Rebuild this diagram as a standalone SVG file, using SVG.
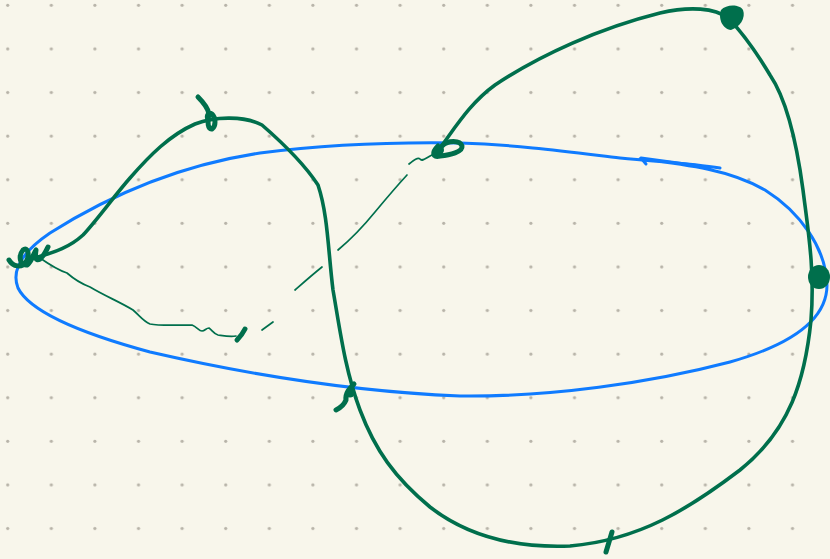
<svg xmlns="http://www.w3.org/2000/svg" width="830" height="559" viewBox="0 0 830 559">
<defs>
<pattern id="dots" x="0" y="0" width="43.6" height="43.6" patternUnits="userSpaceOnUse">
<circle cx="7.7" cy="5.3" r="1.6" fill="#b7b3a8"/>
</pattern>
<style>
.blue{fill:none;stroke:#0f7bff;stroke-width:3;stroke-linecap:round;stroke-linejoin:round}
.g{fill:none;stroke:#006f4c;stroke-width:3.6;stroke-linecap:round;stroke-linejoin:round}
.gt{fill:none;stroke:#006f4c;stroke-width:1.7;stroke-linecap:round;stroke-linejoin:round}
.gk{fill:none;stroke:#006f4c;stroke-width:5;stroke-linecap:round;stroke-linejoin:round}
.blob{fill:#006f4c}
</style>
</defs>
<rect width="830" height="559" fill="#f8f6eb"/>
<rect width="830" height="559" fill="url(#dots)"/>
<g id="connectors">
<path class="blue" d="M 640 159 C 690 165 730 170 765 190 C 800 212 826 248 827 285 C 827 320 790 345 730 362 C 650 383 550 397 460 396 C 360 392 250 375 150 352 C 80 333 30 312 18 288 C 10 268 25 250 50 233 C 110 195 180 165 260 153 C 330 144 400 142 460 143 C 520 145 570 152 620 158 C 660 162 690 163 720 168"/>
<path class="blue" d="M 646 164 L 641 158 L 700 166"/>
<path class="g" d="M 38 257 C 55 252 70 247 83 235 C 97 220 115 195 130 178 C 150 155 170 135 195 124 C 215 116 245 116 262 125 C 285 145 305 165 318 185 C 328 215 328 250 333 290 C 340 330 345 370 360 410 C 375 450 395 478 430 507 C 470 538 520 548 570 546 C 640 540 690 508 740 470 C 790 430 805 380 811 320 C 815 270 808 230 803 190 C 797 145 787 100 770 75 C 755 50 740 30 728 18 C 715 8 690 6 660 13 C 600 28 540 55 495 85 C 470 103 455 128 440 148"/>
<path class="gt" d="M 40 258 C 50 265 58 270 67 273 C 75 280 82 284 90 287 C 105 296 120 302 133 310 C 140 316 143 321 150 324 C 160 326 175 325 192 325 C 197 327 199 331 202 331 C 205 331 206 328 209 328 C 212 330 214 334 218 335 C 225 336 230 337 236 336"/>
<path class="gt" d="M 262 330 L 273 322"/>
<path class="gt" d="M 407 175 C 395 188 385 200 375 212 C 362 228 350 240 338 250"/>
<path class="gt" d="M 322 267 C 312 275 303 283 295 290"/>
<path class="gt" d="M 409 164 C 414 160 418 157 420 159 C 422 162 426 158 432 155"/>
</g>
<g id="node-left">
<path class="gk" d="M 9 260 C 13 267 22 268 26 262 C 30 255 28 246 23 250 C 18 256 20 266 27 265 C 32 262 34 252 36 250 C 35 256 35 262 40 259 C 44 256 47 249 48 247"/>
</g>
<g id="node-top-left">
<path class="gk" d="M 198 97 C 204 103 208 108 209 114 C 207 122 208 130 212 129 C 216 126 216 118 212 114 C 209 112 206 115 208 120"/>
</g>
<g id="node-middle">
<path class="gk" d="M 438 146 C 432 152 432 158 440 156 C 450 155 463 152 462 146 C 460 140 448 140 442 146 C 438 150 438 152 440 154"/>
<circle class="blob" cx="439" cy="150" r="5"/>
</g>
<g id="node-top-right">
<path class="blob" d="M 721 10 C 726 4 740 4 743 10 C 746 18 740 27 731 30 C 722 29 718 18 721 10 Z"/>
</g>
<g id="node-right">
<ellipse class="blob" cx="819" cy="277" rx="11" ry="12"/>
</g>
<g id="mark-bottom-left">
<path class="gk" d="M 354 384 C 350 388 345 393 346 400 C 344 405 340 408 336 410"/>
<circle class="blob" cx="350" cy="393" r="4.5"/>
</g>
<g id="mark-bottom">
<path class="gk" d="M 612 532 L 606 552"/>
</g>
<g id="mark-left-line">
<path class="gk" d="M 245 329 C 243 333 240 337 237 340"/>
</g>
</svg>
